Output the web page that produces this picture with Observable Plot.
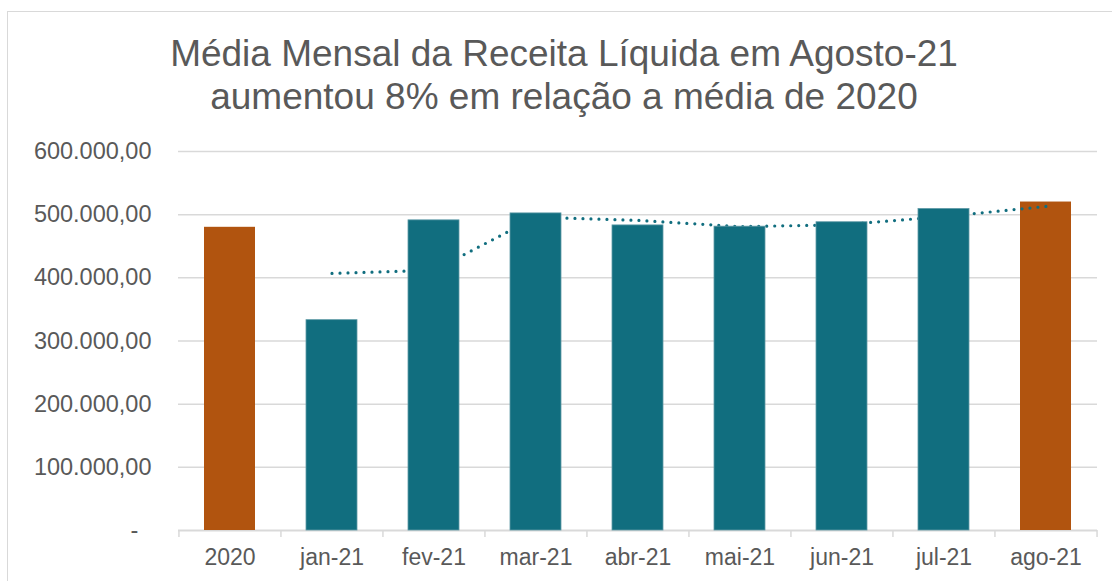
<!DOCTYPE html>
<html><head><meta charset="utf-8">
<script src="https://cdn.jsdelivr.net/npm/d3@7"></script>
<script src="https://cdn.jsdelivr.net/npm/@observablehq/plot@0.6"></script>
<style>
body{margin:0;background:#fff;font-family:"Liberation Sans",Arial,sans-serif;}
#wrap{position:relative;width:1112px;height:581px;overflow:hidden;}
#frame{position:absolute;left:7px;top:11px;width:1200px;height:700px;border-left:1.5px solid #d9d9d9;border-top:1.5px solid #d9d9d9;}
#title{position:absolute;left:0;top:32px;width:1128px;text-align:center;font-size:37px;line-height:43px;color:#595959;}
#chart{position:absolute;left:0;top:0;}
</style></head><body>
<div id="wrap"><div id="frame"></div><div id="chart"></div><div id="title">Média Mensal da Receita Líquida em Agosto-21<br>aumentou 8% em relação a média de 2020</div></div>
<script>
const categories = ["2020","jan-21","fev-21","mar-21","abr-21","mai-21","jun-21","jul-21","ago-21"];
const receita = [480000, 333000, 491000, 502000, 483000, 481000, 488000, 509000, 520000];
const destaque = [true, false, false, false, false, false, false, false, true];
const mediaMovel = [null, 407000, 412000, 496000, 491000, 481000, 484000, 497000, 513000];
const yTicks = [0, 100000, 200000, 300000, 400000, 500000, 600000];

const teal = "#116e7f", orange = "#b1540f";
const data = categories.map((c, i) => ({cat: c, valor: receita[i], destaque: destaque[i], media: mediaMovel[i]}));

const W = 1112, H = 581, mL = 178, mR = 15, mT = 151, mB = 51;
const step = (W - mL - mR) / categories.length;
const fmt = d3.formatLocale({decimal: ",", thousands: ".", grouping: [3], currency: ["", ""]}).format(",.2f");
const font = "'Liberation Sans', Arial, sans-serif";

const chart = Plot.plot({
  width: W, height: H,
  marginLeft: mL, marginRight: mR, marginTop: mT, marginBottom: mB,
  style: {fontFamily: font, fontSize: "23px", color: "#595959", background: "transparent", overflow: "visible"},
  x: {domain: categories, paddingInner: 0.5, paddingOuter: 0.25, label: null},
  y: {domain: [0, 600000], label: null},
  marks: [
    Plot.gridY(yTicks.slice(1), {stroke: "#d9d9d9", strokeOpacity: 1, strokeWidth: 1.5}),
    Plot.ruleY([0], {stroke: "#d9d9d9", strokeWidth: 2}),
    Plot.barY(data.filter(d => d.destaque), {x: "cat", y: "valor", fill: orange}),
    Plot.line(data, {x: "cat", y: "media", stroke: teal, strokeWidth: 3.2, strokeDasharray: "0 8", strokeLinecap: "round"}),
    Plot.barY(data.filter(d => !d.destaque), {x: "cat", y: "valor", fill: teal, stroke: "#5f9aa6", strokeWidth: 0.8}),
    Plot.axisY(yTicks, {tickSize: 0, tickPadding: 27, label: null, fontSize: 23.5, fill: "#595959",
      tickFormat: d => d === 0 ? "-\u00a0\u00a0" : fmt(d)}),
    Plot.axisX({tickSize: 0, tickPadding: 18, label: null, fontSize: 23, fill: "#595959"}),
    Plot.axisX(categories, {tickSize: 7, dx: -step / 2, tickFormat: () => "", label: null, stroke: "#d9d9d9", strokeWidth: 1.5}),
    Plot.axisX([categories[categories.length - 1]], {tickSize: 7, dx: step / 2, tickFormat: () => "", label: null, stroke: "#d9d9d9", strokeWidth: 1.5})
  ]
});
document.getElementById("chart").appendChild(chart);
</script>
</body></html>
